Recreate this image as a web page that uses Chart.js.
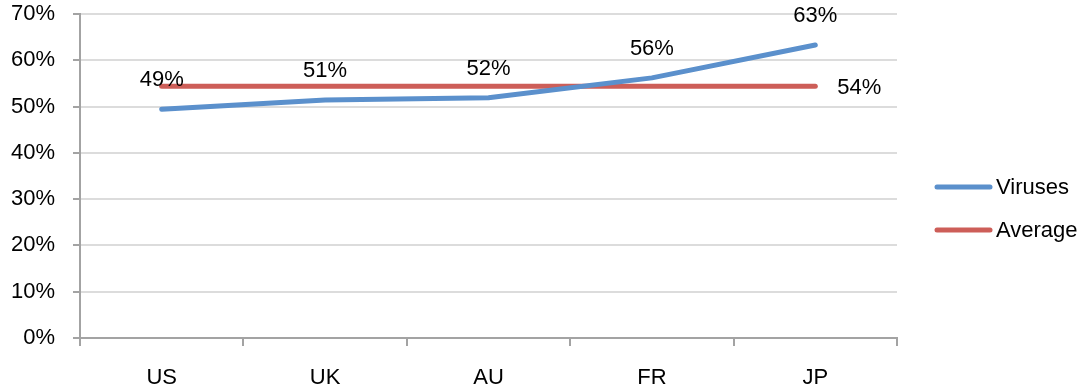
<!DOCTYPE html>
<html>
<head>
<meta charset="utf-8">
<script src="https://cdn.jsdelivr.net/npm/chart.js@4/dist/chart.umd.min.js"></script>
<style>
  html, body { margin: 0; padding: 0; background: #ffffff; }
  #wrap { width: 1088px; height: 392px; }
</style>
</head>
<body>
<div id="wrap"><canvas id="chart" width="1088" height="392"></canvas></div>
<script>
// Share of detections per country, in percent
const categories = ['US', 'UK', 'AU', 'FR', 'JP'];
const virusShare = [49.4, 51.4, 51.9, 56.2, 63.3];
const averageShare = [54.4, 54.4, 54.4, 54.4, 54.4];
const yTickValues = [0, 10, 20, 30, 40, 50, 60, 70];

const FONT = { family: '"Liberation Sans", Arial, sans-serif', size: 22 };
const AXIS_GRAY = '#a3a3a3';
const GRID_GRAY = '#dcdcdc';
const BLUE = '#5b90cc';
const RED = '#cd5e58';

const pct = v => Math.round(v) + '%';

// Value labels: "above" puts text over every point, "endRight" only beside the last point
const valueLabels = {
  id: 'valueLabels',
  afterDatasetsDraw(chart) {
    const ctx = chart.ctx;
    ctx.save();
    ctx.font = `${FONT.size}px ${FONT.family}`;
    ctx.fillStyle = '#000000';
    chart.data.datasets.forEach((ds, i) => {
      const meta = chart.getDatasetMeta(i);
      meta.data.forEach((pt, j) => {
        const v = ds.data[j];
        if (ds.labelMode === 'above') {
          ctx.textAlign = 'center';
          ctx.textBaseline = 'middle';
          ctx.fillText(pct(v), pt.x, pt.y - 29);
        } else if (ds.labelMode === 'endRight' && j === ds.data.length - 1) {
          ctx.textAlign = 'left';
          ctx.textBaseline = 'middle';
          ctx.fillText(pct(v), pt.x + 22, pt.y + 2);
        }
      });
    });
    ctx.restore();
  }
};

// Legend at the right: a short line sample followed by the series name
const sideLegend = {
  id: 'sideLegend',
  afterDraw(chart) {
    const ctx = chart.ctx;
    const area = chart.chartArea;
    const x0 = area.right + 40;
    const x1 = x0 + 53;
    ctx.save();
    ctx.font = `${FONT.size}px ${FONT.family}`;
    ctx.textAlign = 'left';
    ctx.textBaseline = 'middle';
    chart.data.datasets.forEach((ds, i) => {
      const y = 187 + i * 43;
      ctx.strokeStyle = ds.borderColor;
      ctx.lineWidth = 5;
      ctx.lineCap = 'round';
      ctx.beginPath();
      ctx.moveTo(x0, y);
      ctx.lineTo(x1, y);
      ctx.stroke();
      ctx.fillStyle = '#000000';
      ctx.fillText(ds.label, x1 + 6, y + 1);
    });
    ctx.restore();
  }
};

new Chart(document.getElementById('chart'), {
  type: 'line',
  data: {
    labels: categories,
    datasets: [
      { label: 'Viruses', data: virusShare, borderColor: BLUE, backgroundColor: BLUE, labelMode: 'above' },
      { label: 'Average', data: averageShare, borderColor: RED, backgroundColor: RED, labelMode: 'endRight' }
    ]
  },
  options: {
    responsive: false,
    animation: false,
    devicePixelRatio: 1,
    layout: { padding: { top: 14, right: 191, left: 0, bottom: 0 } },
    plugins: { legend: { display: false }, tooltip: { enabled: false } },
    elements: {
      point: { radius: 0, hoverRadius: 0 },
      line: { borderWidth: 5, borderCapStyle: 'round', borderJoinStyle: 'round', tension: 0 }
    },
    scales: {
      x: {
        offset: true,
        grid: { offset: true, drawOnChartArea: false, drawTicks: true, tickLength: 8, color: AXIS_GRAY, tickColor: AXIS_GRAY, lineWidth: 2 },
        border: { color: AXIS_GRAY, width: 2 },
        ticks: { font: FONT, color: '#000000', padding: 19, maxRotation: 0 },
        afterFit(scale) { scale.height = 54; }
      },
      y: {
        min: 0,
        max: 70,
        afterBuildTicks(scale) { scale.ticks = yTickValues.map(v => ({ value: v })); },
        ticks: { font: FONT, color: '#000000', padding: 18, callback: v => v + '%' },
        grid: { color: GRID_GRAY, lineWidth: 2, tickColor: AXIS_GRAY, tickLength: 7 },
        border: { color: AXIS_GRAY, width: 2 },
        afterFit(scale) {
          scale.width = 80;
          scale.paddingTop = 0;
          scale.paddingBottom = 0;
        }
      }
    }
  },
  plugins: [valueLabels, sideLegend]
});
</script>
</body>
</html>
